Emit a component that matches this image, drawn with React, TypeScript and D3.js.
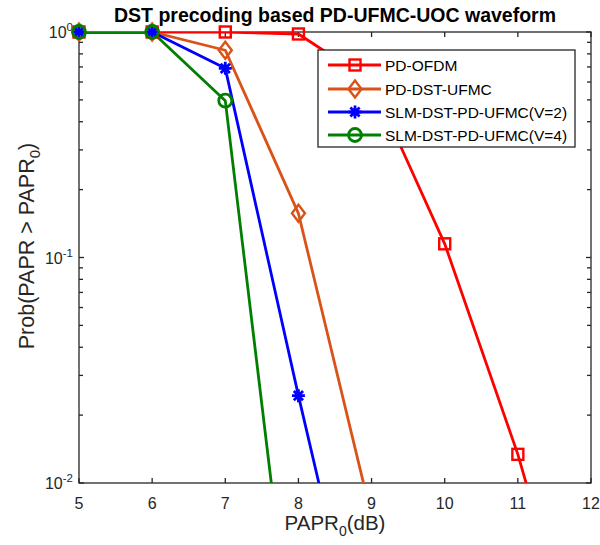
import React from "react";
import * as d3 from "d3";

// PAPR0 (dB) grid and CCDF values
const papr = [5, 6, 7, 8, 9, 10, 11, 12];
const pdOfdm = [1, 1, 1, 0.98, 0.6, 0.115, 0.0134, 0.001];
const pdDstUfmc = [1, 1, 0.83, 0.157, 0.0071];
const slmV2 = [1, 1, 0.69, 0.0244, 0.001];
const slmV4 = [1, 1, 0.496, 0.001];

const legendNames = [
  "PD-OFDM",
  "PD-DST-UFMC",
  "SLM-DST-PD-UFMC(V=2)",
  "SLM-DST-PD-UFMC(V=4)",
];
const xTicks = [5, 6, 7, 8, 9, 10, 11, 12];
const yDecades = [-2, -1, 0];

const series = [
  { name: legendNames[0], values: pdOfdm, color: "#ff0000", marker: "square" },
  { name: legendNames[1], values: pdDstUfmc, color: "#d95319", marker: "diamond" },
  { name: legendNames[2], values: slmV2, color: "#0000ff", marker: "star" },
  { name: legendNames[3], values: slmV4, color: "#007f00", marker: "circle" },
];

const font = "'Liberation Sans', Arial, Helvetica, sans-serif";
const axisColor = "#262626";

const Marker = ({ type, x, y, color }) => {
  const sw = 2.4;
  if (type === "square") {
    return (
      <rect x={x - 5.5} y={y - 5.5} width={11} height={11} fill="none" stroke={color} strokeWidth={sw} />
    );
  }
  if (type === "diamond") {
    return (
      <path
        d={`M${x},${y - 8.5}L${x + 6.5},${y}L${x},${y + 8.5}L${x - 6.5},${y}Z`}
        fill="none"
        stroke={color}
        strokeWidth={sw}
      />
    );
  }
  if (type === "circle") {
    return <circle cx={x} cy={y} r={6.5} fill="none" stroke={color} strokeWidth={sw + 0.4} />;
  }
  const r = 6.5;
  const d = r * Math.SQRT1_2;
  return (
    <path
      d={`M${x - r},${y}H${x + r}M${x},${y - r}V${y + r}M${x - d},${y - d}L${x + d},${y + d}M${x - d},${y + d}L${x + d},${y - d}`}
      stroke={color}
      strokeWidth={sw + 0.4}
    />
  );
};

const App = () => {
  const width = 600;
  const height = 545;
  const left = 79;
  const right = 591;
  const top = 32;
  const bottom = 483;

  const x = d3.scaleLinear().domain([5, 12]).range([left, right]);
  const y = d3.scaleLog().domain([0.01, 1]).range([bottom, top]);

  const line = d3
    .line<number>()
    .x((_, i) => x(papr[i]))
    .y((v) => y(v));

  const minorTicks = [];
  for (let e = -2; e < 0; e++) {
    for (let k = 2; k <= 9; k++) minorTicks.push(k * Math.pow(10, e));
  }

  const lg = { x: 318, y: 50, w: 257, h: 97 };
  const rowY = [65, 89, 112, 135];

  return (
    <svg width={width} height={height} style={{ position: "absolute", left: 0, top: 0 }} fontFamily={font}>
      <rect width={width} height={height} fill="#fff" />
      <defs>
        <clipPath id="plot">
          <rect x={left} y={top} width={right - left} height={bottom - top} />
        </clipPath>
      </defs>

      {/* axes box and ticks */}
      <g stroke={axisColor} strokeWidth={1.3} fill="none">
        <rect x={left} y={top} width={right - left} height={bottom - top} />
        {xTicks.map((t) => (
          <g key={t}>
            <line x1={x(t)} x2={x(t)} y1={bottom} y2={bottom - 5} />
            <line x1={x(t)} x2={x(t)} y1={top} y2={top + 5} />
          </g>
        ))}
        {yDecades.map((e) => (
          <g key={e}>
            <line x1={left} x2={left + 5} y1={y(Math.pow(10, e))} y2={y(Math.pow(10, e))} />
            <line x1={right} x2={right - 5} y1={y(Math.pow(10, e))} y2={y(Math.pow(10, e))} />
          </g>
        ))}
        {minorTicks.map((t) => (
          <g key={t}>
            <line x1={left} x2={left + 4} y1={y(t)} y2={y(t)} />
            <line x1={right} x2={right - 4} y1={y(t)} y2={y(t)} />
          </g>
        ))}
      </g>

      {/* tick labels */}
      <g fill={axisColor} fontSize={16}>
        {xTicks.map((t) => (
          <text key={t} x={x(t)} y={bottom + 26} textAnchor="middle">
            {t}
          </text>
        ))}
        {yDecades.map((e) => (
          <text key={e} x={left - 6} y={y(Math.pow(10, e)) + 6} textAnchor="end">
            10
            <tspan dy={-7} fontSize={11.5}>
              {e}
            </tspan>
          </text>
        ))}
      </g>

      {/* data lines */}
      <g clipPath="url(#plot)" fill="none" strokeWidth={2.8} strokeLinejoin="round">
        {series.map((s) => (
          <path key={s.name} d={line(s.values)} stroke={s.color} />
        ))}
      </g>
      <g>
        {series.map((s) =>
          s.values.map((v, i) =>
            v >= 0.01 ? (
              <Marker key={s.name + i} type={s.marker} x={x(papr[i])} y={y(v)} color={s.color} />
            ) : null
          )
        )}
      </g>

      {/* legend */}
      <rect x={lg.x} y={lg.y} width={lg.w} height={lg.h} fill="#fff" stroke={axisColor} strokeWidth={1.3} />
      {series.map((s, i) => (
        <g key={s.name}>
          <line x1={328} x2={381} y1={rowY[i]} y2={rowY[i]} stroke={s.color} strokeWidth={2.8} />
          <Marker type={s.marker} x={355} y={rowY[i]} color={s.color} />
          <text x={385} y={rowY[i] + 5.5} fontSize={15.5} fill="#000">
            {s.name}
          </text>
        </g>
      ))}

      {/* title and axis labels */}
      <text x={(left + right) / 2} y={22} textAnchor="middle" fontSize={19.5} fontWeight="bold" fill="#000">
        DST precoding based PD-UFMC-UOC waveform
      </text>
      <text x={(left + right) / 2} y={530} textAnchor="middle" fontSize={20.5} fill={axisColor}>
        PAPR
        <tspan dy={6} fontSize={14}>
          0
        </tspan>
        <tspan dy={-6}>(dB)</tspan>
      </text>
      <text
        transform={`translate(34,246) rotate(-90)`}
        textAnchor="middle"
        fontSize={21.5}
        fill={axisColor}
      >
        Prob(PAPR &gt; PAPR
        <tspan dy={6} fontSize={15}>
          0
        </tspan>
        <tspan dy={-6}>)</tspan>
      </text>
    </svg>
  );
};

export default App;
